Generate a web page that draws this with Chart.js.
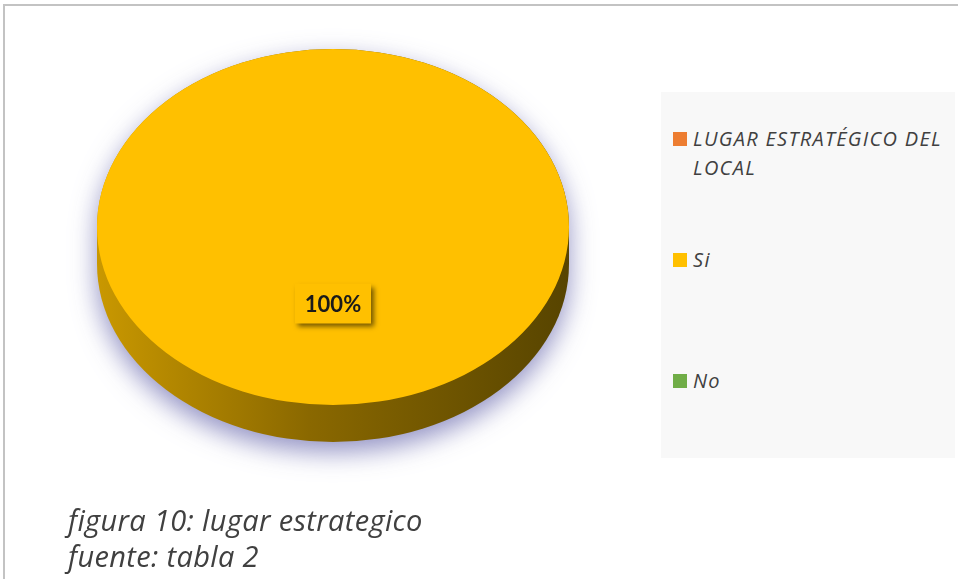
<!DOCTYPE html>
<html>
<head>
<meta charset="utf-8">
<script src="https://cdn.jsdelivr.net/npm/chart.js@4.4.0/dist/chart.umd.min.js"></script>
<style>
    body { margin: 0; width: 958px; height: 579px; overflow: hidden; background: #fff; font-family: 'Open Sans', Lato, sans-serif; }
    #marco { position: absolute; left: 3px; top: 4px; width: 970px; height: 590px; border-top: 2px solid #c3c3c3; border-left: 2px solid #c3c3c3; }
    #grafico { position: absolute; left: 0; top: 0; }
    #leyenda { position: absolute; left: 661px; top: 92px; width: 294px; height: 366px; background: #f8f8f8; }
    .item { position: absolute; left: 32px; width: 262px; font-style: italic; font-size: 20px; letter-spacing: 1.3px; line-height: 29px; color: #404040; }
    .cuadro { position: absolute; left: -20px; top: 8px; width: 14px; height: 14px; }
    #pie { position: absolute; left: 68px; top: 502px; font-style: italic; font-size: 29px; letter-spacing: 0.35px; line-height: 36px; color: #404040; }
</style>
</head>
<body>
<div id="marco"></div>
<canvas id="grafico" width="958" height="579"></canvas>
<div id="leyenda"></div>
<div id="pie">figura 10: lugar estrategico<br>fuente: tabla 2</div>

<script>
// Datos
const serie = 'LUGAR ESTRATÉGICO DEL LOCAL';
const categorias = ['Si', 'No'];
const valores = [100, 0];
const colores = ['#FFC000', '#70AD47'];
const colorSerie = '#ED7D31';

// Aspecto 3D (solo estilo)
const escalaY = 0.754;
const centroY = 227;
const profundidad = 37;

// Leyenda en HTML (Excel muestra el nombre de la serie como primera entrada)
const entradas = [{ texto: serie, color: colorSerie }].concat(
    categorias.map((c, i) => ({ texto: c, color: colores[i] }))
);
const topes = [32, 153, 274];
const leyenda = document.getElementById('leyenda');
entradas.forEach(function(e, i) {
    const div = document.createElement('div');
    div.className = 'item';
    div.style.top = topes[i] + 'px';
    div.innerHTML = '<span class="cuadro" style="background:' + e.color + '"></span>' + e.texto;
    leyenda.appendChild(div);
});

// Dibuja el costado y aplana el pastel en elipse
const pastel3d = {
    id: 'pastel3d',
    beforeDatasetsDraw(chart) {
        const arco = chart.getDatasetMeta(0).data[0];
        const { x, y, outerRadius: r } = arco;
        const ctx = chart.ctx;
        const d = profundidad / escalaY;
        ctx.save();
        ctx.translate(0, centroY);
        ctx.scale(1, escalaY);
        ctx.translate(0, -y);

        const grad = ctx.createLinearGradient(x - r, 0, x + r, 0);
        grad.addColorStop(0, '#c99800');
        grad.addColorStop(0.45, '#8a6800');
        grad.addColorStop(1, '#574400');

        ctx.save();
        ctx.shadowColor = 'rgba(135, 135, 190, 0.9)';
        ctx.shadowBlur = 26;
        ctx.shadowOffsetY = 10;
        ctx.beginPath();
        ctx.arc(x, y + d, r, 0, Math.PI);
        ctx.lineTo(x - r, y);
        ctx.arc(x, y, r, Math.PI, 0);
        ctx.closePath();
        ctx.fillStyle = grad;
        ctx.fill();
        ctx.restore();
    },
    afterDatasetsDraw(chart) {
        const ctx = chart.ctx;
        ctx.restore();
        const meta = chart.getDatasetMeta(0);
        const total = valores.reduce((a, b) => a + b, 0);
        meta.data.forEach(function(arco, i) {
            if (!valores[i]) return;
            const medio = (arco.startAngle + arco.endAngle) / 2;
            const px = arco.x + Math.cos(medio) * arco.outerRadius * 0.43;
            const py = centroY + Math.sin(medio) * arco.outerRadius * 0.43 * escalaY;
            const texto = Math.round(valores[i] / total * 100) + '%';
            ctx.save();
            ctx.shadowColor = 'rgba(0, 0, 0, 0.55)';
            ctx.shadowBlur = 5;
            ctx.shadowOffsetX = 3;
            ctx.shadowOffsetY = 3;
            ctx.fillStyle = colores[i];
            ctx.fillRect(px - 38, py - 20, 76, 40);
            ctx.restore();
            ctx.save();
            ctx.font = 'bold 22px Lato';
            ctx.fillStyle = '#1a1a1a';
            ctx.textAlign = 'center';
            ctx.textBaseline = 'middle';
            ctx.fillText(texto, px, py + 1);
            ctx.restore();
        });
    }
};

new Chart(document.getElementById('grafico'), {
    type: 'pie',
    data: {
        labels: categorias,
        datasets: [{
            label: serie,
            data: valores,
            backgroundColor: colores,
            borderWidth: 0
        }]
    },
    options: {
        responsive: false,
        animation: false,
        layout: { padding: { left: 97, right: 389, top: 0, bottom: 107 } },
        plugins: {
            legend: { display: false },
            tooltip: { enabled: false }
        }
    },
    plugins: [pastel3d]
});
</script>
</body>
</html>
